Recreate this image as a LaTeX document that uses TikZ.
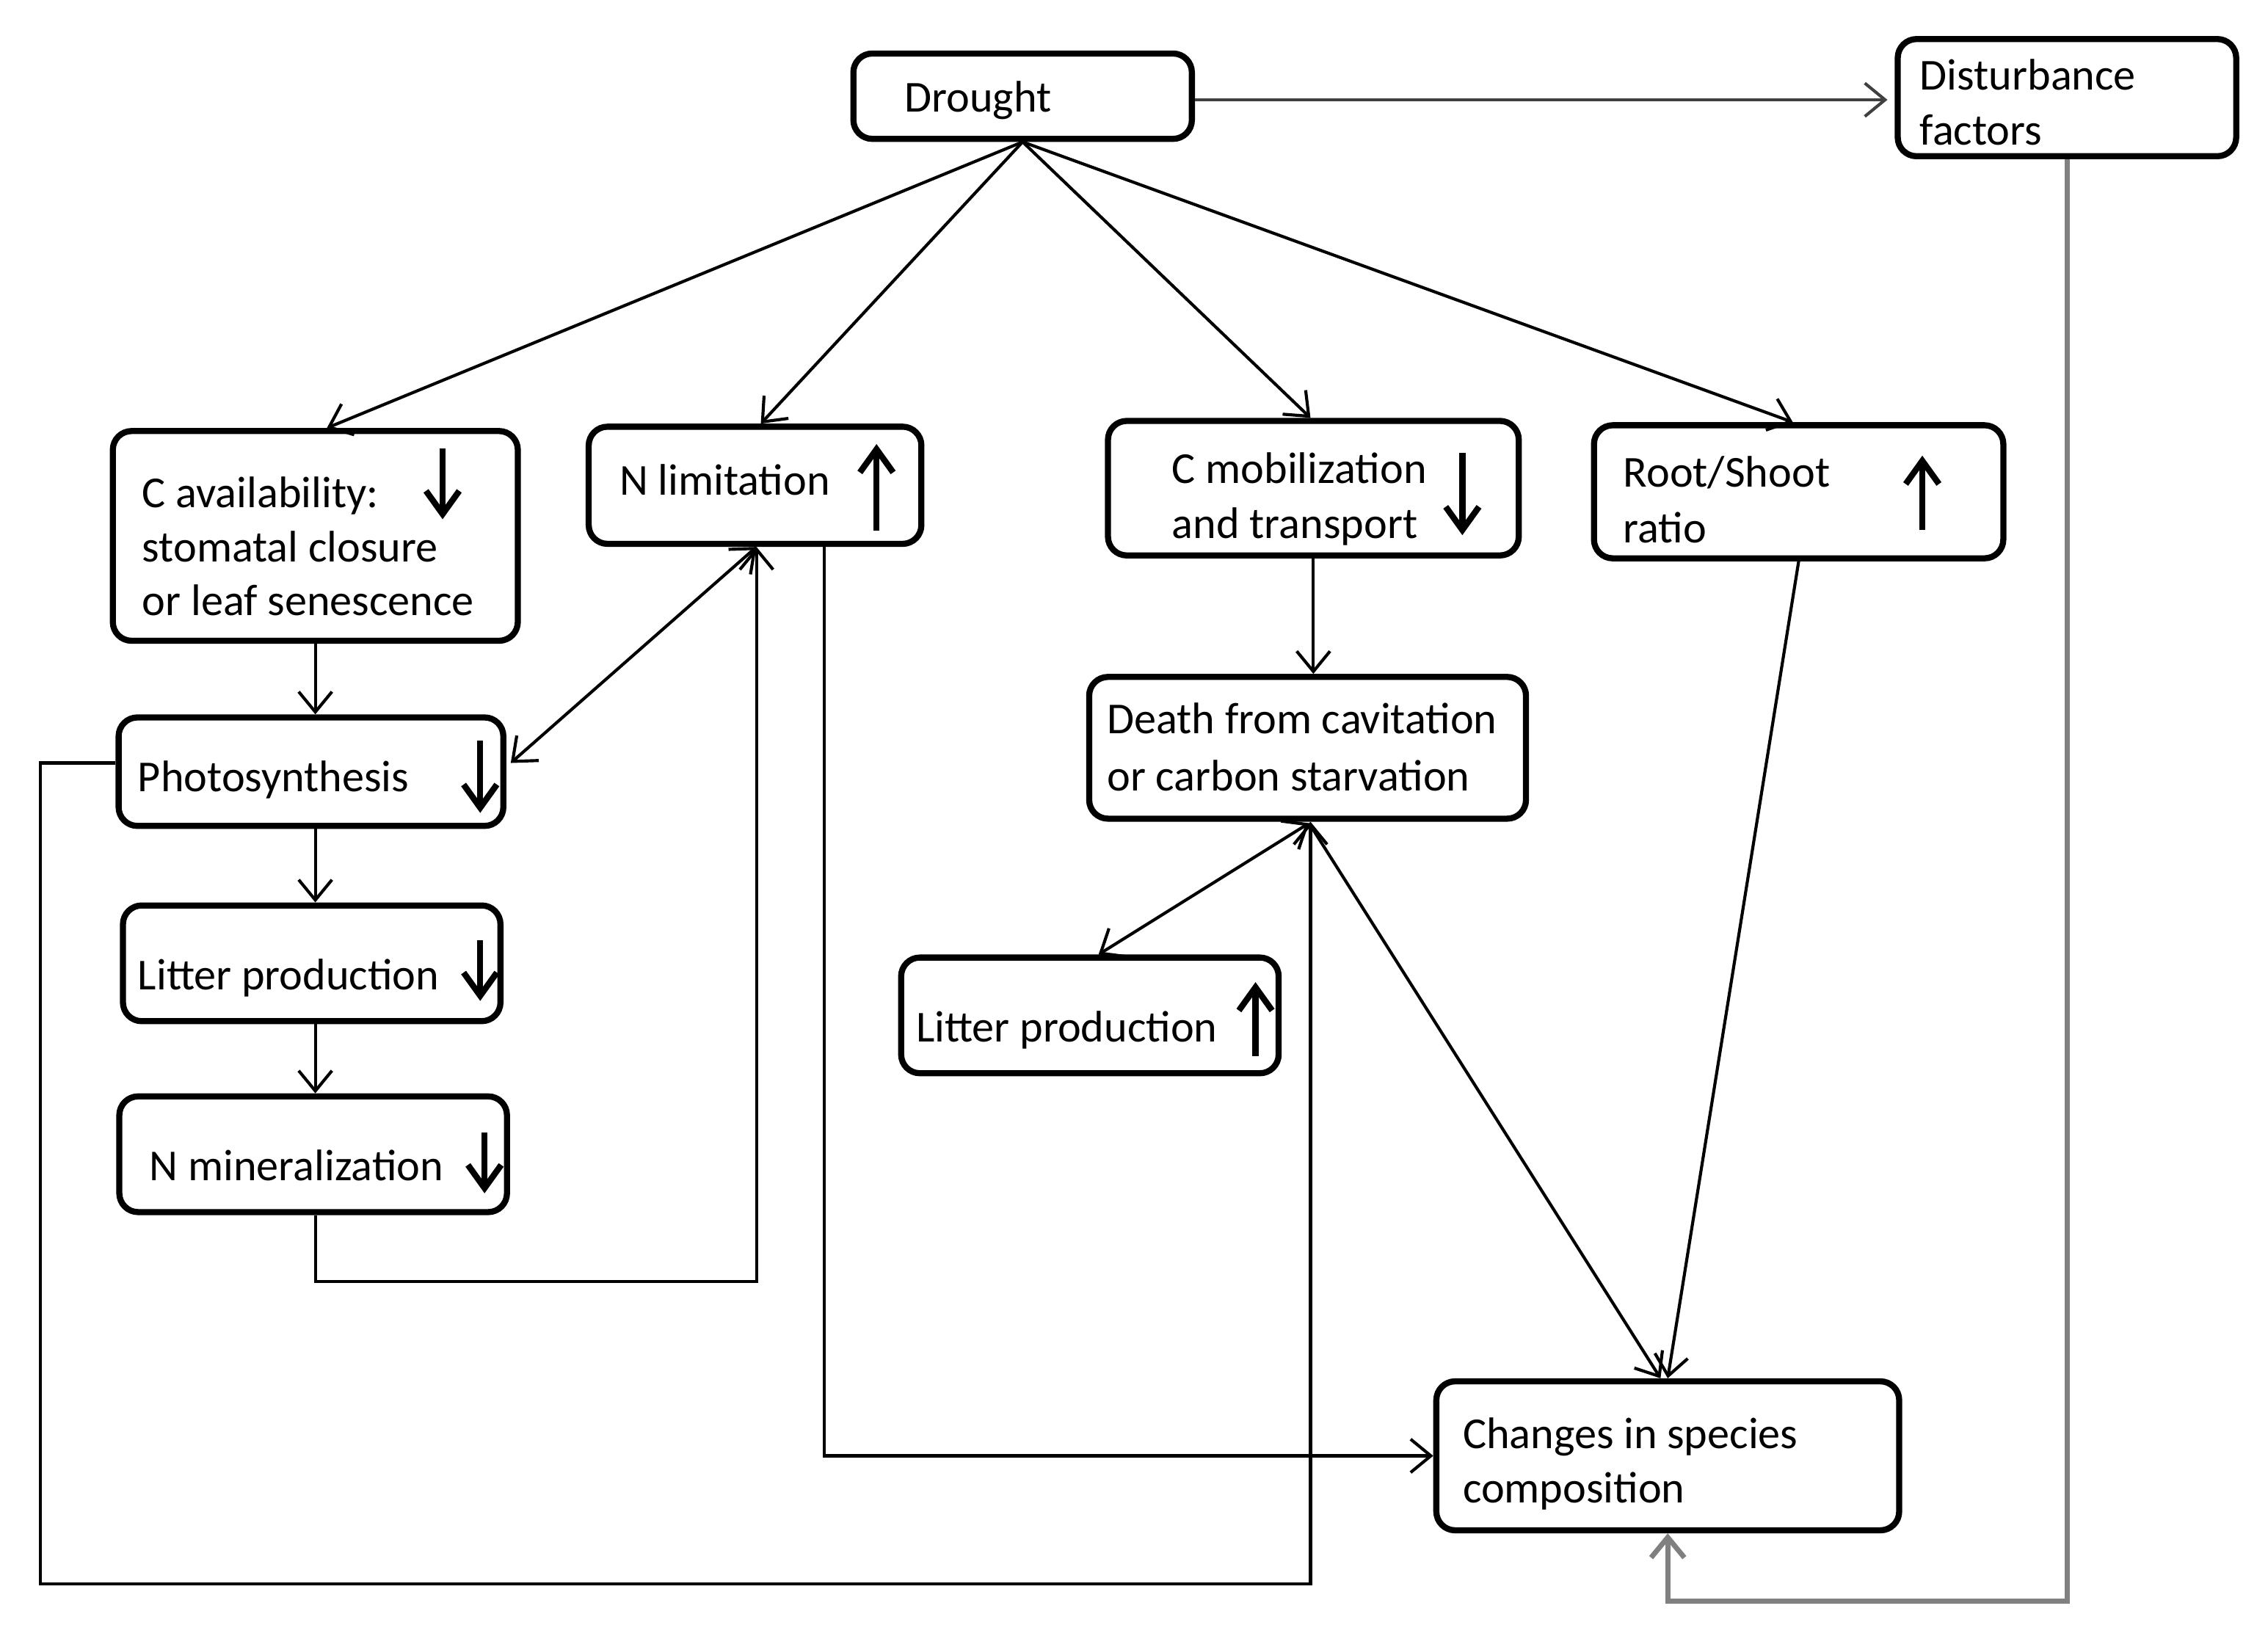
\documentclass[tikz,border=0pt]{standalone}
\usepackage{fontspec}
\setmainfont{Carlito}
\usetikzlibrary{arrows.meta,calc}
\begin{document}
\begin{tikzpicture}[x=0.02cm,y=-0.02cm,
  box/.style={draw, line width=2.4pt, rounded corners=0.26cm, inner sep=0pt},
  txt/.style={anchor=mid west, inner sep=0pt, yshift=-5*0.02cm, font=\fontsize{17.4}{21}\selectfont},
  conn/.style={line width=1.2pt, -{Straight Barb[length=0.28cm,width=0.46cm]}},
  dconn/.style={line width=1.2pt, {Straight Barb[length=0.28cm,width=0.46cm]}-{Straight Barb[length=0.28cm,width=0.46cm]}},
  gconn/.style={line width=2pt, draw=black!50, -{Straight Barb[length=0.28cm,width=0.46cm]}},
  symarrow/.style={line width=2.4pt, -{Straight Barb[length=0.32cm,width=0.46cm]}}
]
\useasboundingbox (0,0) rectangle (1568,1123);
\fill[white] (0,0) rectangle (1568,1123);

% boxes
\node[box, minimum width=234*0.02cm, minimum height=59*0.02cm]  (drought) at (707,66.5) {};
\node[box, minimum width=234*0.02cm, minimum height=81*0.02cm]  (dist)    at (1429,67.5) {};
\node[box, minimum width=280*0.02cm, minimum height=145*0.02cm] (cavail)  at (218,370.5) {};
\node[box, minimum width=230*0.02cm, minimum height=81*0.02cm]  (nlim)    at (522,335.5) {};
\node[box, minimum width=284*0.02cm, minimum height=93*0.02cm]  (cmob)    at (908,337.5) {};
\node[box, minimum width=283*0.02cm, minimum height=92*0.02cm]  (root)    at (1243.5,340) {};
\node[box, minimum width=302*0.02cm, minimum height=98*0.02cm]  (death)   at (904,517) {};
\node[box, minimum width=266*0.02cm, minimum height=75*0.02cm]  (photo)   at (215,533.5) {};
\node[box, minimum width=261*0.02cm, minimum height=80*0.02cm]  (litL)    at (215.5,666) {};
\node[box, minimum width=268*0.02cm, minimum height=80*0.02cm]  (nmin)    at (216.5,798) {};
\node[box, minimum width=261*0.02cm, minimum height=80*0.02cm]  (litR)    at (753.5,702) {};
\node[box, minimum width=320*0.02cm, minimum height=103*0.02cm] (changes) at (1153,1006.5) {};

% texts
\node[txt] (tDrought) at (625,68) {Drought};
\node[txt] (tDist1) at (1327,53) {Disturbance};
\node[txt] (tDist2) at (1327,91) {factors};
\node[txt] (tCa1) at (98,341.5) {C availability:};
\node[txt] (tCa2) at (98,379) {stomatal closure};
\node[txt] (tCa3) at (98,416.5) {or leaf senescence};
\node[txt] (tNlim) at (428,333) {N limitation};
\node[txt] (tCm1) at (810,325) {C mobilization};
\node[txt] (tCm2) at (810,363) {and transport};
\node[txt] (tRs1) at (1122,327.5) {Root/Shoot};
\node[txt] (tRs2) at (1122,366) {ratio};
\node[txt] (tDe1) at (765,498) {Death from cavitation};
\node[txt] (tDe2) at (765,537.5) {or carbon starvation};
\node[txt] (tPh) at (95,538) {Photosynthesis};
\node[txt] (tLl) at (95,675) {Litter production};
\node[txt] (tNm) at (103,807) {N mineralization};
\node[txt] (tLr) at (633,711) {Litter production};
\node[txt] (tCh1) at (1011,992) {Changes in species};
\node[txt] (tCh2) at (1011,1030) {composition};

% up/down symbols inside boxes
\draw[symarrow] (306,310) -- (306,359);
\draw[symarrow] (606,367) -- (606,307);
\draw[symarrow] (1011,313) -- (1011,370);
\draw[symarrow] (1329,366.5) -- (1329,315);
\draw[symarrow] (332,512) -- (332,562);
\draw[symarrow] (332,650) -- (332,692);
\draw[symarrow] (335,783) -- (335,825);
\draw[symarrow] (868,730) -- (868,679);

% connectors from Drought
\draw[conn] (drought.south) -- ($(cavail.north)+(8,0)$);
\draw[conn] (drought.south) -- ($(nlim.north)+(4,0)$);
\draw[conn] (drought.south) -- ($(cmob.north)+(-2,0)$);
\draw[conn] (drought.south) -- ($(root.north)+(-4,0)$);
\draw[conn, draw=black!75] ($(drought.east)+(0,2.5)$) -- ($(drought.east -| dist.west)+(-5,2.5)$);

% disturbance loop
\draw[gconn] (dist.south) |- ($(changes.south)+(0,47)$) -- (changes.south);

% left chain
\draw[conn] (cavail.south) -- (cavail.south |- photo.north);
\draw[conn] (cavail.south |- photo.south) -- (cavail.south |- litL.north);
\draw[conn] (cavail.south |- litL.south) -- (cavail.south |- nmin.north);
\draw[dconn] ($(nlim.south)+(1,0)$) -- ($(photo.east)+(3,-6)$);
\draw[conn] (cavail.south |- nmin.south) -- ++(0,46) -| ($(nlim.south)+(1,0)$);
\draw[conn] ($(nlim.south)+(48,0)$) |- (changes.west);
\draw[conn] ($(photo.west)+(0,-6)$) -- ++(-52,0) |- ($(death.south)+(2,527)$) -- ($(death.south)+(2,0)$);

% right side
\draw[conn] (cmob.south) -- (cmob.south |- death.north);
\draw[dconn] ($(death.south)+(1,1)$) -- ($(litR.north)+(6,0)$);
\draw[conn] ($(death.south)+(1,1)$) -- ($(changes.north)+(-5,0)$);
\draw[conn] (root.south) -- ($(changes.north)+(0,0)$);
\end{tikzpicture}
\end{document}
